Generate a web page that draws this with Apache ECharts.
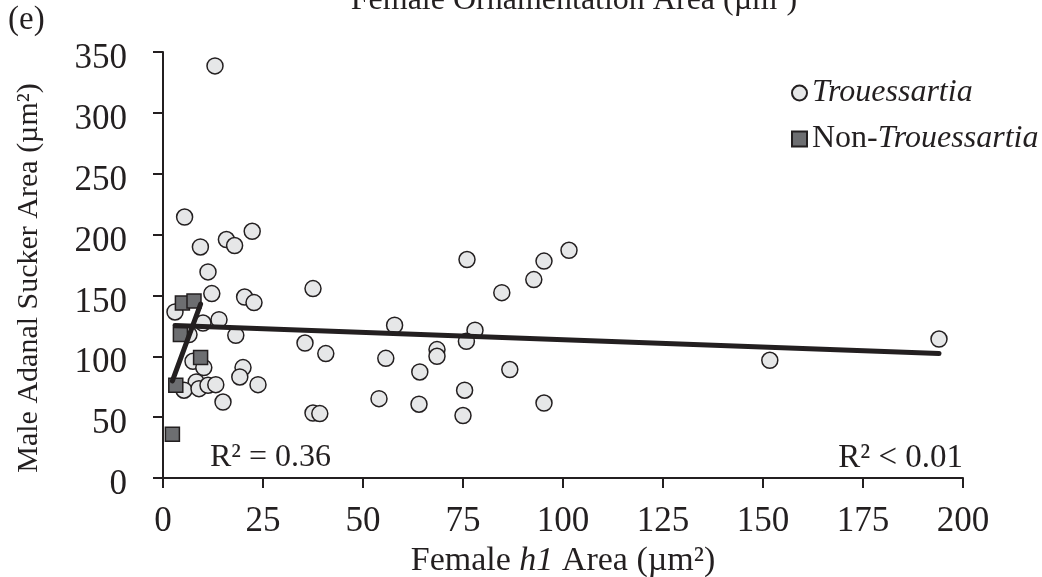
<!DOCTYPE html>
<html>
<head>
<meta charset="utf-8">
<script src="https://cdn.jsdelivr.net/npm/echarts@6/dist/echarts.min.js"></script>
<style>
  html, body { margin: 0; padding: 0; background: #fff; }
  #chart { width: 1042px; height: 577px; }
</style>
</head>
<body>
<div id="chart"></div>
<script>
// Female h1 area (x) vs male adanal sucker area (y), µm²
const trouX = [13.0, 5.4, 22.3, 15.85, 17.9, 9.35, 11.25, 12.2, 20.4, 22.75,
               3.0, 10.0, 14.0, 6.5, 18.2, 35.5, 7.5, 10.2, 20.0, 19.2,
               23.75, 8.3, 5.25, 9.0, 11.25, 13.2, 15.0,
               37.5, 76.0, 95.25, 101.5, 92.7, 84.7, 57.9, 78.0, 75.85,
               40.7, 68.5, 68.5, 55.7, 64.2, 86.7, 75.4, 54.0, 64.0,
               95.25, 75.0, 37.5, 39.2, 151.7, 194.0];
const trouY = [338.6, 214.4, 202.7, 195.9, 191.0, 189.8, 169.3, 151.5, 148.7, 144.1,
               136.4, 127.3, 130.1, 117.8, 117.2, 110.9, 95.9, 90.7, 90.7, 83.0,
               76.7, 78.9, 72.1, 73.4, 76.2, 76.7, 62.4,
               155.6, 179.5, 178.2, 187.1, 163.0, 152.3, 125.5, 121.4, 112.3,
               102.2, 105.5, 100.0, 98.3, 87.1, 89.1, 72.1, 65.2, 60.6,
               61.6, 51.3, 53.4, 52.9, 96.7, 114.2];

const nonX = [2.35, 3.2, 4.35, 4.85, 7.75, 9.4];
const nonY = [36.0, 76.2, 117.8, 143.8, 145.4, 98.9];

// Linear trend coefficients (slope, intercept) for each group
const trouTrend = [-0.121, 125.7];
const nonTrend = [8.94, 58.8];

const r2Labels = ['0.36', '< 0.01'];

const xTicks = { min: 0, max: 200, interval: 25 };
const yTicks = { min: 0, max: 350, interval: 50 };

const INK = '#231f20';
const FONT = '"Liberation Serif", "Times New Roman", serif';

function pairs(xs, ys) { return xs.map((x, i) => [x, ys[i]]); }
function trendLine(xs, coef) {
  const lo = Math.min(...xs), hi = Math.max(...xs);
  return [[lo, coef[0] * lo + coef[1]], [hi, coef[0] * hi + coef[1]]];
}

const chart = echarts.init(document.getElementById('chart'), null, { renderer: 'canvas' });

const axisCommon = {
  axisLine: { show: true, lineStyle: { color: INK, width: 2 } },
  axisTick: { show: true, inside: false, length: 10, lineStyle: { color: INK, width: 2 } },
  splitLine: { show: false },
  axisLabel: { color: INK, fontFamily: FONT, fontSize: 35 }
};

chart.setOption({
  animation: false,
  backgroundColor: '#ffffff',
  textStyle: { fontFamily: FONT },
  grid: { left: 163, right: 79, top: 52, bottom: 99, containLabel: false, outerBoundsMode: 'none' },
  xAxis: Object.assign({}, axisCommon, {
    type: 'value', min: xTicks.min, max: xTicks.max, interval: xTicks.interval,
    axisLabel: Object.assign({}, axisCommon.axisLabel, { margin: 26 }),
    name: '{n|Female }{i|h1}{n| Area (µm²)}',
    nameLocation: 'middle', nameGap: 62,
    nameTextStyle: {
      color: INK, fontFamily: FONT, fontSize: 34,
      rich: {
        n: { fontFamily: FONT, fontSize: 34, color: INK },
        i: { fontFamily: FONT, fontSize: 34, color: INK, fontStyle: 'italic' }
      }
    }
  }),
  yAxis: Object.assign({}, axisCommon, {
    type: 'value', min: yTicks.min, max: yTicks.max, interval: yTicks.interval,
    // labels sit a little below their ticks
    axisLabel: Object.assign({}, axisCommon.axisLabel, { margin: 36, verticalAlign: 'top', lineHeight: 14 })
  }),
  legend: {
    orient: 'vertical', left: 786, top: 70,
    itemWidth: 15, itemHeight: 15, itemGap: 10,
    data: [{ name: 'Trouessartia', icon: 'circle' }, { name: 'Non-Trouessartia', icon: 'rect' }],
    formatter: function (name) {
      return name === 'Trouessartia' ? '{i|Trouessartia}' : '{n|Non-}{i|Trouessartia}';
    },
    textStyle: {
      color: INK, fontFamily: FONT, fontSize: 32, lineHeight: 36,
      rich: {
        n: { fontFamily: FONT, fontSize: 32, color: INK, lineHeight: 36 },
        i: { fontFamily: FONT, fontSize: 32, color: INK, fontStyle: 'italic', lineHeight: 36 }
      }
    }
  },
  graphic: [
    { type: 'text', left: 8, top: 4,
      style: { text: '(e)', fontFamily: FONT, fontSize: 33, fill: INK } },
    { type: 'text', x: 574, y: 17,
      style: { text: 'Female Ornamentation Area (µm²)', fontFamily: FONT, fontSize: 32, fill: INK,
               align: 'center', verticalAlign: 'bottom' } },
    { type: 'text', x: 29, y: 278, rotation: Math.PI / 2,
      style: { text: 'Male Adanal Sucker Area (µm²)', fontFamily: FONT, fontSize: 30, fill: INK,
               align: 'center', verticalAlign: 'middle' } },
    { type: 'text', x: 210, y: 458,
      style: { text: 'R² = ' + r2Labels[0], fontFamily: FONT, fontSize: 32, fill: INK,
               align: 'left', verticalAlign: 'middle' } },
    { type: 'text', x: 963, y: 458,
      style: { text: 'R² ' + r2Labels[1], fontFamily: FONT, fontSize: 33, fill: INK,
               align: 'right', verticalAlign: 'middle' } }
  ],
  series: [
    {
      name: 'Trouessartia', type: 'scatter', symbol: 'circle', symbolSize: 16,
      data: pairs(trouX, trouY), z: 2,
      itemStyle: { color: '#e6e7e8', borderColor: INK, borderWidth: 1.5, opacity: 1 }
    },
    {
      name: 'Non-Trouessartia', type: 'scatter', symbol: 'rect', symbolSize: 14,
      data: pairs(nonX, nonY), z: 3,
      itemStyle: { color: '#6d6e71', borderColor: INK, borderWidth: 1.5, opacity: 1 }
    },
    {
      type: 'line', data: trendLine(trouX, trouTrend), showSymbol: false, symbol: 'none', z: 4,
      lineStyle: { color: INK, width: 5, cap: 'round' }, silent: true
    },
    {
      type: 'line', data: trendLine(nonX, nonTrend), showSymbol: false, symbol: 'none', z: 4,
      lineStyle: { color: INK, width: 5, cap: 'round' }, silent: true
    }
  ]
});
</script>
</body>
</html>
